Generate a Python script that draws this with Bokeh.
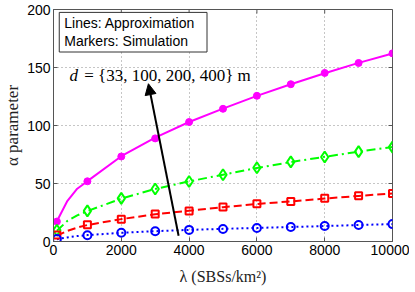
from bokeh.plotting import figure
from bokeh.models import Label, Arrow, NormalHead, FixedTicker
from bokeh.embed import file_html
from bokeh.resources import INLINE

# ---- data ----
x_sim = [100, 1000, 2000, 3000, 4000, 5000, 6000, 7000, 8000, 9000, 10000]
x_approx = [100, 400, 700, 1000, 2000, 3000, 4000, 5000, 6000, 7000, 8000, 9000, 10000]

# d = 33 m (magenta), 100 m (green), 200 m (red), 400 m (blue)
sim_d33 = [17.2, 51.9, 73.3, 88.9, 103.0, 114.4, 125.6, 135.6, 145.3, 153.9, 162.2]
sim_d100 = [9.7, 26.4, 37.2, 45.3, 51.7, 57.5, 63.6, 68.6, 72.8, 77.5, 81.4]
sim_d200 = [5.5, 14.4, 19.2, 23.6, 26.4, 29.7, 32.5, 34.4, 37.2, 39.4, 41.4]
sim_d400 = [2.2, 5.4, 7.5, 8.9, 10.0, 10.8, 11.7, 12.5, 13.3, 14.2, 15.0]

apx_d33 = [17.5, 34.5, 45.5, 52.0, 73.5, 89.5, 103.0, 114.5, 125.5, 135.5, 145.0, 154.0, 162.0]
apx_d100 = [9.2, 17.5, 22.5, 26.2, 37.0, 45.3, 51.8, 57.6, 63.4, 68.5, 73.0, 77.4, 81.5]
apx_d200 = [5.0, 9.0, 12.0, 14.2, 19.3, 23.5, 26.6, 29.6, 32.3, 34.6, 37.0, 39.3, 41.4]
apx_d400 = [2.0, 3.5, 4.7, 5.5, 7.5, 8.9, 10.0, 10.9, 11.7, 12.5, 13.3, 14.2, 15.0]

x_ticks = [0, 2000, 4000, 6000, 8000, 10000]
y_ticks = [0, 50, 100, 150, 200]
x_max, y_max = 10000, 200

legend_text = "Lines: Approximation\nMarkers: Simulation"
legend_pos = (170, 197.5)
note_d = "d"
note_rest = "= {33, 100, 200, 400} m"
note_pos_d = (470, 143)
note_pos_rest = (905, 143)
arrow_start = (3690, 5)
arrow_end = (2800, 136)

FW, FH = 339, 232

# ---- figure ----
p = figure(frame_width=FW, frame_height=FH, x_range=(0, x_max), y_range=(0, y_max),
           output_backend="svg", toolbar_location=None,
           min_border_left=43, min_border_right=17, min_border_top=9, min_border_bottom=40)
p.background_fill_color = "white"
p.border_fill_color = "white"
p.outline_line_color = "#555555"

for ax in (p.xaxis[0], p.yaxis[0]):
    ax.major_tick_in = 4
    ax.major_tick_out = 0
    ax.minor_tick_line_color = None
    ax.axis_line_color = "#555555"
    ax.major_tick_line_color = "#555555"
    ax.major_label_text_font = "Liberation Sans"
    ax.major_label_text_font_size = "14px"
    ax.major_label_text_color = "black"
    ax.axis_label_text_font = "Liberation Serif"
    ax.axis_label_text_font_style = "normal"
    ax.axis_label_text_color = "#222222"

p.xaxis.ticker = FixedTicker(ticks=x_ticks)
p.yaxis.ticker = FixedTicker(ticks=y_ticks)
p.xaxis.axis_label = "λ (SBSs/km²)"
p.yaxis.axis_label = "α parameter"
p.xaxis.axis_label_text_font_size = "16px"
p.yaxis.axis_label_text_font_size = "17px"
p.xaxis.major_label_standoff = 3
p.yaxis.major_label_standoff = 3
p.xaxis.axis_label_standoff = 10
p.yaxis.axis_label_standoff = 2

# inward box ticks on the top and right edges (tick length ~4 px)
tick_dx = 4 * x_max / FW
tick_dy = 4 * y_max / FH
p.segment(x0=x_ticks, y0=[y_max] * len(x_ticks), x1=x_ticks, y1=[y_max - tick_dy] * len(x_ticks),
          line_color="#555555", line_width=1)
p.segment(x0=[x_max] * len(y_ticks), y0=y_ticks, x1=[x_max - tick_dx] * len(y_ticks), y1=y_ticks,
          line_color="#555555", line_width=1)

p.xgrid.grid_line_color = "#8c8c8c"
p.ygrid.grid_line_color = "#8c8c8c"
p.xgrid.grid_line_dash = "1 3"
p.ygrid.grid_line_dash = "1 3"
p.xgrid.grid_line_width = 1
p.ygrid.grid_line_width = 1

# ---- series ----
mag, grn, red, blu = "#ff00ff", "#00ff00", "#ff0000", "#0000ff"

p.line(x_approx, apx_d33, line_color=mag, line_width=2)
p.line(x_approx, apx_d100, line_color=grn, line_width=2, line_dash="9 4 2 4")
p.line(x_approx, apx_d200, line_color=red, line_width=2, line_dash="8 4")
p.line(x_approx, apx_d400, line_color=blu, line_width=2, line_dash="2 3")

p.scatter(x_sim, sim_d33, marker="circle", size=7, fill_color=mag, line_color=mag, line_width=1)
p.scatter(x_sim, sim_d100, marker="diamond", size=11, fill_color=None, line_color=grn, line_width=2)
p.scatter(x_sim, sim_d200, marker="square", size=7, fill_color=None, line_color=red, line_width=2)
p.scatter(x_sim, sim_d400, marker="circle", size=8, fill_color=None, line_color=blu, line_width=2)

# ---- annotations ----
p.add_layout(Label(x=legend_pos[0], y=legend_pos[1], text=legend_text,
                   text_font="Liberation Sans", text_font_size="14px", text_color="black",
                   text_align="left", text_baseline="top", text_line_height=1.1,
                   border_line_color="#333333", border_line_width=1,
                   background_fill_color="white",
                   padding=dict(left=5, right=12, top=3, bottom=3)))

p.add_layout(Label(x=note_pos_d[0], y=note_pos_d[1], text=note_d,
                   text_font="Liberation Serif", text_font_style="italic", text_font_size="17px",
                   text_align="left", text_baseline="middle", text_color="black"))
p.add_layout(Label(x=note_pos_rest[0], y=note_pos_rest[1], text=note_rest,
                   text_font="Liberation Serif", text_font_size="17px",
                   text_align="left", text_baseline="middle", text_color="black"))

p.add_layout(Arrow(end=NormalHead(size=11, fill_color="black", line_color="black"),
                   x_start=arrow_start[0], y_start=arrow_start[1],
                   x_end=arrow_end[0], y_end=arrow_end[1],
                   line_color="black", line_width=2))

open("out.html", "w").write(file_html(p, INLINE))
